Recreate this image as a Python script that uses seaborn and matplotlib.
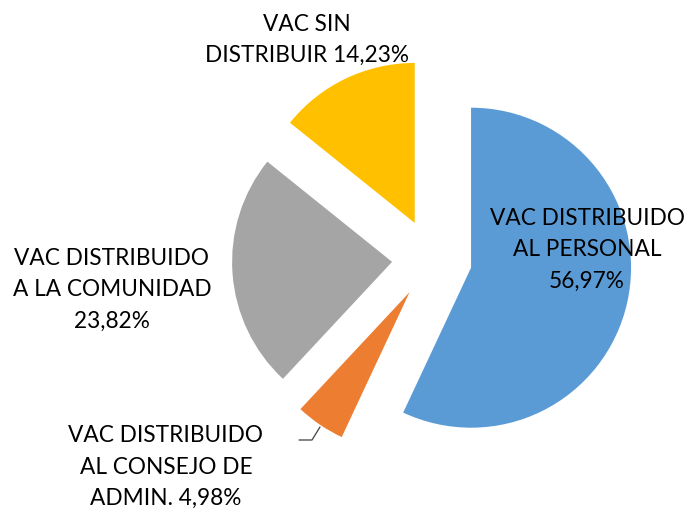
import matplotlib
matplotlib.use("Agg")
import matplotlib.pyplot as plt
import seaborn as sns

# datos del gráfico
categorias = ["VAC DISTRIBUIDO\nAL PERSONAL", "VAC DISTRIBUIDO\nAL CONSEJO DE\nADMIN.",
              "VAC DISTRIBUIDO\nA LA COMUNIDAD", "VAC SIN\nDISTRIBUIR"]
porcentajes = [56.97, 4.98, 23.82, 14.23]
colores = ["#5B9BD5", "#ED7D31", "#A5A5A5", "#FFC000"]

sns.set_theme(style="white")
plt.rcParams['font.family'] = ['Lato', 'DejaVu Sans']

fig = plt.figure(figsize=(6.86, 5.12), dpi=100)
ax = fig.add_axes([0, 0, 1, 1])

ax.pie(porcentajes, colors=colores, startangle=90, counterclock=False,
       explode=[0.25] * len(porcentajes), radius=1.0,
       wedgeprops=dict(linewidth=0))

# centro del pastel en (432, 259) px, radio 160 px
ax.set_xlim(-432 / 160, (686 - 432) / 160)
ax.set_ylim(-(512 - 259) / 160, 259 / 160)
ax.set_aspect('equal')
ax.axis('off')

def fmt(v):
    return f"{v:.2f}".replace('.', ',') + "%"

# posiciones de etiquetas en píxeles (x, y desde arriba)
pos_etiquetas = [(587, 250), (166, 467), (112, 290), (307, 40)]
textos = [
    categorias[0] + "\n" + fmt(porcentajes[0]),
    categorias[1] + " " + fmt(porcentajes[1]),
    categorias[2] + "\n" + fmt(porcentajes[2]),
    categorias[3] + " " + fmt(porcentajes[3]),
]
for (px, py), t in zip(pos_etiquetas, textos):
    fig.text(px / 686, 1 - py / 512, t, ha='center', va='center',
             fontsize=16.3, color='#000000', linespacing=1.62)

# línea guía de la etiqueta naranja
fig.add_artist(plt.Line2D([299 / 686, 312 / 686, 320 / 686],
                          [1 - 440 / 512, 1 - 440 / 512, 1 - 427 / 512],
                          color='#404040', linewidth=0.9))

fig.savefig("out.png", dpi=100)
